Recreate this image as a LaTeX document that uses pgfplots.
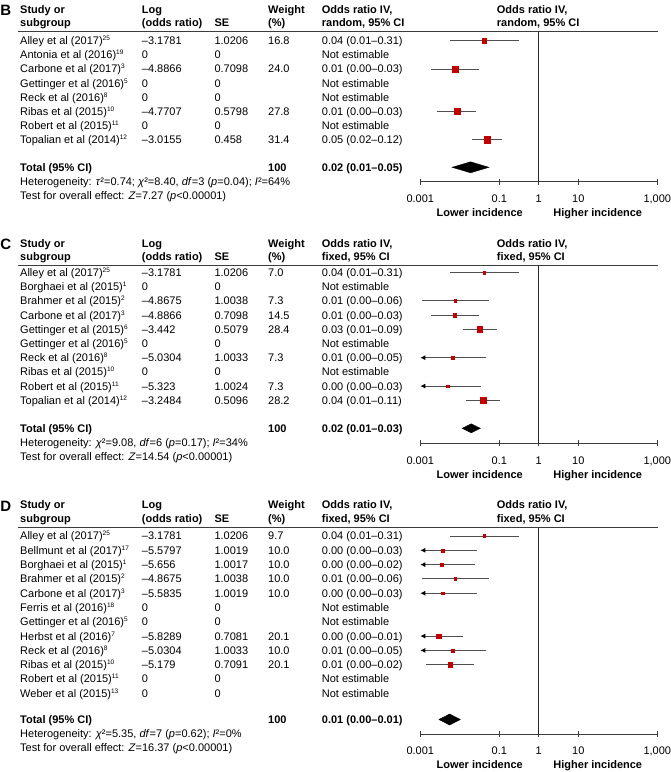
\documentclass[border=0pt]{standalone}
\usepackage{fontspec}
\setmainfont{Liberation Sans}
\usepackage{pgfplots}
\usepackage{pgfplotstable}
\pgfplotsset{compat=1.18}
\usetikzlibrary{arrows.meta}

\definecolor{boxred}{RGB}{192,0,0}
\definecolor{ciline}{RGB}{80,80,80}
\definecolor{rulec}{RGB}{60,60,60}

\newcommand{\bodyfont}{\fontsize{11}{13}\selectfont}
\newcommand{\sr}[1]{\textsuperscript{\fontsize{6.5}{7}\selectfont #1}}

% one text row: y, study, log OR, SE, weight, OR (CI)
\newcommand{\trow}[6]{%
  \node[T] at (20pt,-#1pt) {#2};
  \node[T] at (141.7pt,-#1pt) {#3};
  \node[T] at (214.3pt,-#1pt) {#4};
  \node[T] at (268pt,-#1pt) {#5};
  \node[T] at (321.7pt,-#1pt) {#6};}

% column headers: letter, y of line 1, y of line 2, model
\newcommand{\thead}[4]{%
  \node[anchor=base west, inner sep=0pt, font=\fontsize{15}{17}\selectfont\bfseries] at (0.3pt,-#2pt-6pt) {#1};
  \node[H] at (20pt,-#2pt) {Study or};
  \node[H] at (20pt,-#3pt) {subgroup};
  \node[H] at (141.7pt,-#2pt) {Log};
  \node[H] at (141.7pt,-#3pt) {(odds ratio)};
  \node[H] at (214.3pt,-#3pt) {SE};
  \node[H] at (268pt,-#2pt) {Weight};
  \node[H] at (268pt,-#3pt) {(\%)};
  \node[H] at (321.7pt,-#2pt) {Odds ratio IV,};
  \node[H] at (321.7pt,-#3pt) {#4, 95\% CI};
  \node[H] at (496.7pt,-#2pt) {Odds ratio IV,};
  \node[H] at (496.7pt,-#3pt) {#4, 95\% CI};}

% studies with an estimate: odds ratio, row position, box half-size
\pgfplotstableread{
or       y       ms
0.04167  -40.7   2.4
0.007544 -69.0   2.8
0.008473 -111.5  3.0
0.04903  -139.8  3.2
}\studyB

\pgfplotstableread{
or       y       ms
0.04167  -272.5  1.3
0.007690 -300.9  1.3
0.007544 -315.1  1.7
0.03200  -329.3  2.7
0.006534 -357.7  1.3
0.004877 -386.1  1.3
0.03885  -400.3  2.7
}\studyC

\pgfplotstableread{
or       y       ms
0.04167  -536.0  1.4
0.003772 -550.3  1.4
0.003495 -564.6  1.4
0.007690 -578.9  1.4
0.003758 -593.2  1.4
0.002941 -636.1  2.2
0.006534 -650.4  1.4
0.005634 -664.7  2.2
}\studyD

\pgfplotsset{
  forestaxis/.style={
    anchor=south west, scale only axis, width=237pt,
    clip=false,
    axis x line*=bottom, axis y line=none,
    xtick={0.001,0.1,1,10,1000},
    xticklabels={0.001,0.1,1,10,{1,000}},
    xminorticks=false, tick align=center, major tick length=6pt,
    x axis line style={rulec, line width=0.8pt},
    tick style={rulec, line width=0.8pt},
    xticklabel style={font=\bodyfont, anchor=base, yshift=-17.9pt},
  },
  refline/.style={black!85, line width=0.8pt, no marks},
  cibar/.style={ciline, line width=0.9pt, no marks},
  cibararrow/.style={cibar, {Latex[length=5pt,width=5pt,black]}-},
  studybox/.style={scatter, only marks, mark=square*, point meta=y,
    scatter/use mapped color={draw=boxred, fill=boxred},
    visualization depends on={\thisrow{ms}\as\msz},
    scatter/@pre marker code/.append style={/tikz/mark size=\msz}},
  pooled/.style={fill=black, draw=black, no marks},
}

\begin{document}
\begin{tikzpicture}[
  T/.style={anchor=base west, inner sep=0pt, yshift=-3.9pt, font=\bodyfont},
  H/.style={T, font=\bodyfont\bfseries},
  Hc/.style={inner sep=0pt, anchor=base, yshift=-3.9pt, font=\bodyfont\bfseries}]
\useasboundingbox (0,0) rectangle (671pt,-772pt);

% ---------------- B ----------------
\thead{B}{9.5}{22.8}{random}
\draw[rulec, line width=0.8pt] (18.3pt,-31.7pt) -- (658pt,-31.7pt);
\trow{40.7}{Alley et al (2017)\sr{25}}{–3.1781}{1.0206}{16.8}{0.04 (0.01–0.31)}
\trow{54.9}{Antonia et al (2016)\sr{19}}{0}{0}{}{Not estimable}
\trow{69.0}{Carbone et al (2017)\sr{3}}{–4.8866}{0.7098}{24.0}{0.01 (0.00–0.03)}
\trow{83.2}{Gettinger et al (2016)\sr{5}}{0}{0}{}{Not estimable}
\trow{97.3}{Reck et al (2016)\sr{8}}{0}{0}{}{Not estimable}
\trow{111.5}{Ribas et al (2015)\sr{10}}{–4.7707}{0.5798}{27.8}{0.01 (0.00–0.03)}
\trow{125.6}{Robert et al (2015)\sr{11}}{0}{0}{}{Not estimable}
\trow{139.8}{Topalian et al (2014)\sr{12}}{–3.0155}{0.458}{31.4}{0.05 (0.02–0.12)}
\node[H] at (20pt,-167.3pt) {Total (95\% CI)};
\node[H] at (268pt,-167.3pt) {100};
\node[H] at (321.7pt,-167.3pt) {0.02 (0.01–0.05)};
\node[T] at (20pt,-181.7pt) {Heterogeneity: \textit{τ}²=0.74; \textit{χ}²=8.40, \textit{df}=3 (\textit{p}=0.04); \textit{I}²=64\%};
\node[T] at (20pt,-195.3pt) {Test for overall effect: \textit{Z}=7.27 (\textit{p}<0.00001)};
\node[Hc] at (479.7pt,-212.3pt) {Lower incidence};
\node[Hc] at (597.8pt,-212.3pt) {Higher incidence};

\begin{axis}[forestaxis, xmode=log, xmin=0.001, xmax=1000,
  at={(420.3pt,-181.7pt)}, height=150.2pt, ymin=-181.7, ymax=-31.5]
\addplot[refline] coordinates {(1,-31.7) (1,-181.7)};
\addplot[cibar] coordinates {(0.005637,-40.7) (0.3080,-40.7)};
\addplot[cibar] coordinates {(0.001878,-69.0) (0.03034,-69.0)};
\addplot[cibar] coordinates {(0.002720,-111.5) (0.02640,-111.5)};
\addplot[cibar] coordinates {(0.01998,-139.8) (0.1203,-139.8)};
\addplot[studybox] table[x=or, y=y] {\studyB};
\addplot[pooled] coordinates {(0.006405,-167.3) (0.01870,-161.8) (0.05460,-167.3) (0.01870,-172.8)} --cycle;
\end{axis}

% ---------------- C ----------------
\thead{C}{243.3}{256.8}{fixed}
\draw[rulec, line width=0.8pt] (18.3pt,-265pt) -- (658pt,-265pt);
\trow{272.5}{Alley et al (2017)\sr{25}}{–3.1781}{1.0206}{7.0}{0.04 (0.01–0.31)}
\trow{286.7}{Borghaei et al (2015)\sr{1}}{0}{0}{}{Not estimable}
\trow{300.9}{Brahmer et al (2015)\sr{2}}{–4.8675}{1.0038}{7.3}{0.01 (0.00–0.06)}
\trow{315.1}{Carbone et al (2017)\sr{3}}{–4.8866}{0.7098}{14.5}{0.01 (0.00–0.03)}
\trow{329.3}{Gettinger et al (2015)\sr{6}}{–3.442}{0.5079}{28.4}{0.03 (0.01–0.09)}
\trow{343.5}{Gettinger et al (2016)\sr{5}}{0}{0}{}{Not estimable}
\trow{357.7}{Reck et al (2016)\sr{8}}{–5.0304}{1.0033}{7.3}{0.01 (0.00–0.05)}
\trow{371.9}{Ribas et al (2015)\sr{10}}{0}{0}{}{Not estimable}
\trow{386.1}{Robert et al (2015)\sr{11}}{–5.323}{1.0024}{7.3}{0.00 (0.00–0.03)}
\trow{400.3}{Topalian et al (2014)\sr{12}}{–3.2484}{0.5096}{28.2}{0.04 (0.01–0.11)}
\node[H] at (20pt,-428.3pt) {Total (95\% CI)};
\node[H] at (268pt,-428.3pt) {100};
\node[H] at (321.7pt,-428.3pt) {0.02 (0.01–0.03)};
\node[T] at (20pt,-442.5pt) {Heterogeneity: \textit{χ}²=9.08, \textit{df}=6 (\textit{p}=0.17); \textit{I}²=34\%};
\node[T] at (20pt,-456.2pt) {Test for overall effect: \textit{Z}=14.54 (\textit{p}<0.00001)};
\node[Hc] at (479.7pt,-474.3pt) {Lower incidence};
\node[Hc] at (597.8pt,-474.3pt) {Higher incidence};

\begin{axis}[forestaxis, xmode=log, xmin=0.001, xmax=1000,
  at={(420.3pt,-443.2pt)}, height=178.2pt, ymin=-443.2, ymax=-265]
\addplot[refline] coordinates {(1,-265) (1,-443.2)};
\addplot[cibar] coordinates {(0.005637,-272.5) (0.3080,-272.5)};
\addplot[cibar] coordinates {(0.001075,-300.9) (0.05503,-300.9)};
\addplot[cibar] coordinates {(0.001878,-315.1) (0.03034,-315.1)};
\addplot[cibar] coordinates {(0.01183,-329.3) (0.08661,-329.3)};
\addplot[cibararrow] coordinates {(0.001,-357.7) (0.04670,-357.7)};
\addplot[cibararrow] coordinates {(0.001,-386.1) (0.03479,-386.1)};
\addplot[cibar] coordinates {(0.01431,-400.3) (0.1055,-400.3)};
\addplot[studybox] table[x=or, y=y] {\studyC};
\addplot[pooled] coordinates {(0.01150,-428.3) (0.01954,-423.8) (0.03322,-428.3) (0.01954,-432.8)} --cycle;
\end{axis}

% ---------------- D ----------------
\thead{D}{505}{518.3}{fixed}
\draw[rulec, line width=0.8pt] (18.3pt,-527.7pt) -- (658pt,-527.7pt);
\trow{536.0}{Alley et al (2017)\sr{25}}{–3.1781}{1.0206}{9.7}{0.04 (0.01–0.31)}
\trow{550.3}{Bellmunt et al (2017)\sr{17}}{–5.5797}{1.0019}{10.0}{0.00 (0.00–0.03)}
\trow{564.6}{Borghaei et al (2015)\sr{1}}{–5.656}{1.0017}{10.0}{0.00 (0.00–0.02)}
\trow{578.9}{Brahmer et al (2015)\sr{2}}{–4.8675}{1.0038}{10.0}{0.01 (0.00–0.06)}
\trow{593.2}{Carbone et al (2017)\sr{3}}{–5.5835}{1.0019}{10.0}{0.00 (0.00–0.03)}
\trow{607.5}{Ferris et al (2016)\sr{18}}{0}{0}{}{Not estimable}
\trow{621.8}{Gettinger et al (2016)\sr{5}}{0}{0}{}{Not estimable}
\trow{636.1}{Herbst et al (2016)\sr{7}}{–5.8289}{0.7081}{20.1}{0.00 (0.00–0.01)}
\trow{650.4}{Reck et al (2016)\sr{8}}{–5.0304}{1.0033}{10.0}{0.01 (0.00–0.05)}
\trow{664.7}{Ribas et al (2015)\sr{10}}{–5.179}{0.7091}{20.1}{0.01 (0.00–0.02)}
\trow{679.0}{Robert et al (2015)\sr{11}}{0}{0}{}{Not estimable}
\trow{693.3}{Weber et al (2015)\sr{13}}{0}{0}{}{Not estimable}
\node[H] at (20pt,-719.8pt) {Total (95\% CI)};
\node[H] at (268pt,-719.8pt) {100};
\node[H] at (321.7pt,-719.8pt) {0.01 (0.00–0.01)};
\node[T] at (20pt,-734pt) {Heterogeneity: \textit{χ}²=5.35, \textit{df}=7 (\textit{p}=0.62); \textit{I}²=0\%};
\node[T] at (20pt,-747.7pt) {Test for overall effect: \textit{Z}=16.37 (\textit{p}<0.00001)};
\node[Hc] at (479.7pt,-765pt) {Lower incidence};
\node[Hc] at (597.8pt,-765pt) {Higher incidence};

\begin{axis}[forestaxis, xmode=log, xmin=0.001, xmax=1000,
  at={(420.3pt,-734pt)}, height=206.3pt, ymin=-734, ymax=-527.7]
\addplot[refline] coordinates {(1,-527.7) (1,-734)};
\addplot[cibar] coordinates {(0.005637,-536.0) (0.3080,-536.0)};
\addplot[cibararrow] coordinates {(0.001,-550.3) (0.02689,-550.3)};
\addplot[cibararrow] coordinates {(0.001,-564.6) (0.02490,-564.6)};
\addplot[cibar] coordinates {(0.001075,-578.9) (0.05503,-578.9)};
\addplot[cibararrow] coordinates {(0.001,-593.2) (0.02679,-593.2)};
\addplot[cibararrow] coordinates {(0.001,-636.1) (0.01178,-636.1)};
\addplot[cibararrow] coordinates {(0.001,-650.4) (0.04670,-650.4)};
\addplot[cibar] coordinates {(0.001404,-664.7) (0.02262,-664.7)};
\addplot[studybox] table[x=or, y=y] {\studyD};
\addplot[pooled] coordinates {(0.002964,-719.5) (0.005523,-714.0) (0.01030,-719.5) (0.005523,-725.0)} --cycle;
\end{axis}
\end{tikzpicture}
\end{document}
